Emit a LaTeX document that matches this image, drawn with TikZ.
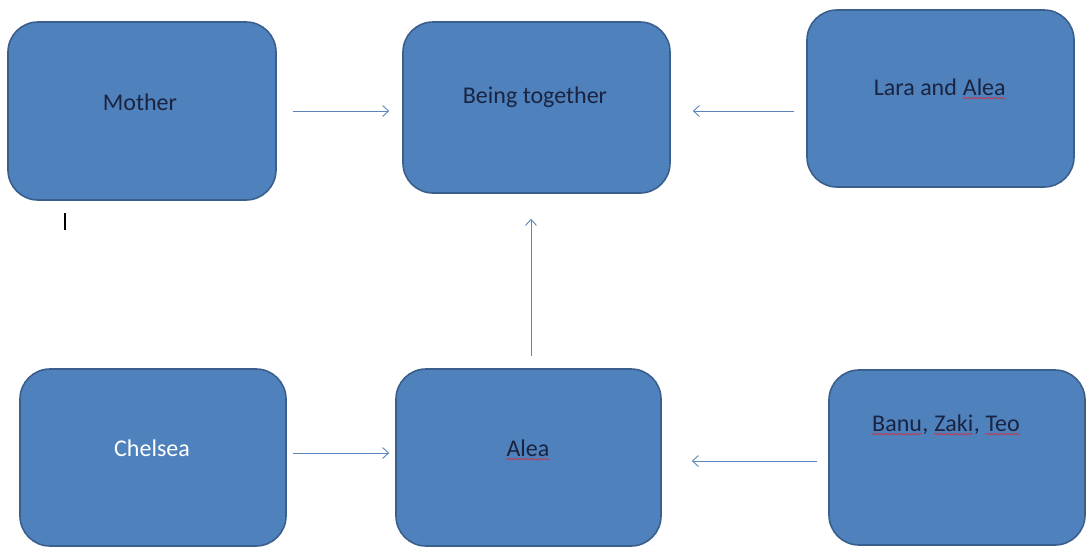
\documentclass[tikz,border=0pt]{standalone}
\usepackage{fontspec}
\setmainfont{Carlito}
\usetikzlibrary{arrows.meta, decorations.pathmorphing}

\definecolor{boxfill}{HTML}{4F81BD}
\definecolor{boxline}{HTML}{3A5F8C}
\definecolor{boxtext}{HTML}{1A2440}
\definecolor{arrowcol}{HTML}{5B86BD}
\definecolor{spellred}{HTML}{D03040}

% wavy red underline (spell check marks)
\newcommand\spellwave[1]{\tikz[baseline=(w.base)]{\node[inner sep=0pt] (w) {#1};
    \draw[spellred, line width=0.5pt, decorate, decoration={snake, amplitude=0.9pt, segment length=2.8pt}]
    ([yshift=-2.8pt]w.base west) -- ([yshift=-2.8pt]w.base east);}}

\begin{document}
\begin{tikzpicture}[x=1pt, y=-1pt,
    familybox/.style={draw=boxline, line width=1.6pt, fill=boxfill, rounded corners=30pt, inner sep=0pt},
    familytext/.style={text=boxtext, font=\fontsize{24}{28}\selectfont},
    link/.style={draw=arrowcol, line width=0.9pt, -{Straight Barb[length=6pt, width=11pt]}}]

        \useasboundingbox (0,0) rectangle (1087,547);

        % === Riga in alto ===
        \node[familybox, minimum width=268pt, minimum height=178pt] (mother) at (142, 111) {};
        \node[familytext] (mothertxt) at (140, 102) {Mother};

        \node[familybox, minimum width=267pt, minimum height=171pt] (together) at (536.5, 107.5) {};
        \node[familytext] (togethertxt) at (535, 97) {Being together};

        \node[familybox, minimum width=267pt, minimum height=177pt] (lara) at (940.5, 98.5) {};
        \node[familytext] (laratxt) at (940, 89) {Lara and \spellwave{Alea}};

        % === Riga in basso ===
        \node[familybox, minimum width=266pt, minimum height=177pt] (chelsea) at (153, 457.5) {};
        \node[familytext, text=white] (chelseatxt) at (152, 448) {Chelsea};

        \node[familybox, minimum width=265pt, minimum height=177pt] (alea) at (528.5, 457.5) {};
        \node[familytext] (aleatxt) at (528, 450) {\spellwave{Alea}};

        \node[familybox, minimum width=256pt, minimum height=175pt] (banu) at (957, 457.5) {};
        \node[familytext] (banutxt) at (946, 425) {\spellwave{Banu}, \spellwave{Zaki}, \spellwave{Teo}};

        % Cursore
        \coordinate (cursortop) at (65, 213);
        \coordinate (cursorbot) at (65, 230);
        \draw[line width=1.6pt] (cursortop) -- (cursorbot);

        % Frecce
        \draw[link, shorten <=16pt, shorten >=13pt] (mother.east) -- (mother.east -| together.west);
        \draw[link, shorten <=12pt, shorten >=22pt] (lara.west |- mother.east) -- (mother.east -| together.east);
        \draw[link, shorten <=12pt, shorten >=25pt] ([xshift=2.5pt]alea.north) -- ([xshift=2.5pt]alea.north |- together.south);
        \draw[link, shorten <=6pt, shorten >=6pt] ([yshift=4.5pt]chelsea.east) -- ([yshift=4.5pt]alea.west);
        \draw[link, shorten <=11pt, shorten >=30pt] ([yshift=-3.5pt]banu.west) -- ([yshift=-3.5pt]alea.east);

\end{tikzpicture}
\end{document}
